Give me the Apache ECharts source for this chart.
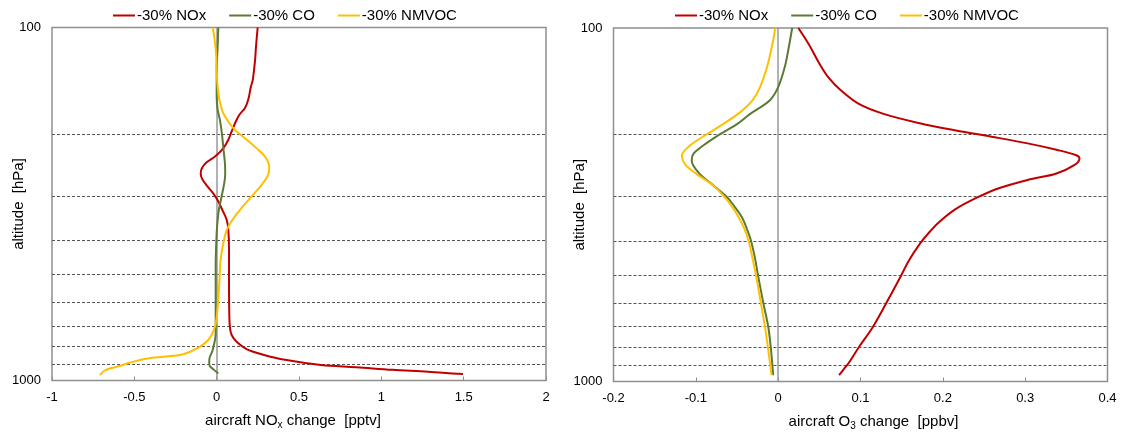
<!DOCTYPE html>
<html>
<head>
<meta charset="utf-8">
<script src="https://cdn.jsdelivr.net/npm/echarts@6/dist/echarts.min.js"></script>
<style>
  html, body { margin: 0; padding: 0; background: #fff; }
  #chart { width: 1124px; height: 434px; }
</style>
</head>
<body>
<div id="chart"></div>
<script>
// series names
var names = ['-30% NOx', '-30% CO', '-30% NMVOC'];
// dashed pressure levels [hPa]
var levels = [200, 300, 400, 500, 600, 700, 800, 900];

// left panel: aircraft NOx change [pptv]
var noxNoxP = [100, 113, 124, 141, 147, 160, 169, 177, 187, 197, 208, 220, 232, 241, 250, 259, 268, 280, 295, 311, 329, 351, 375, 427, 530, 660, 711, 743, 777, 815, 845, 874, 904, 917, 933, 944, 959];
var noxNoxX = [0.249, 0.239, 0.233, 0.219, 0.208, 0.192, 0.172, 0.137, 0.111, 0.091, 0.071, 0.040, -0.010, -0.061, -0.089, -0.097, -0.089, -0.061, -0.021, 0.010, 0.035, 0.061, 0.071, 0.075, 0.075, 0.077, 0.081, 0.091, 0.121, 0.182, 0.283, 0.415, 0.633, 0.849, 1.067, 1.283, 1.496];
var noxCoP = [100, 113, 132, 157, 171, 183, 200, 218, 242, 259, 276, 301, 329, 351, 383, 476, 591, 735, 819, 874, 902, 933, 955];
var noxCoX = [0.010, 0.006, 0.0, 0.0, 0.006, 0.020, 0.032, 0.040, 0.050, 0.052, 0.046, 0.030, 0.013, 0.006, 0.0, -0.006, -0.006, -0.006, -0.024, -0.045, -0.045, -0.016, 0.010];
var noxVocP = [100, 106, 118, 132, 147, 160, 173, 185, 195, 206, 220, 232, 248, 261, 279, 301, 325, 351, 375, 409, 455, 530, 618, 682, 727, 768, 802, 829, 847, 866, 891, 910, 925, 940, 955, 965];
var noxVocX = [-0.024, -0.015, -0.004, 0.0, 0.006, 0.016, 0.036, 0.071, 0.111, 0.172, 0.243, 0.293, 0.319, 0.313, 0.273, 0.212, 0.150, 0.095, 0.061, 0.040, 0.024, 0.016, 0.006, -0.004, -0.021, -0.051, -0.101, -0.162, -0.223, -0.42, -0.53, -0.59, -0.65, -0.685, -0.70, -0.71];

// right panel: aircraft O3 change [ppbv]
var o3NoxP = [100, 111, 126, 138, 150, 164, 175, 186, 195, 203, 212, 221, 229, 234, 244, 258, 269, 284, 303, 326, 355, 382, 408, 454, 519, 602, 701, 800, 891, 921, 960];
var o3NoxX = [0.0245, 0.037, 0.050, 0.061, 0.076, 0.098, 0.128, 0.172, 0.216, 0.259, 0.303, 0.338, 0.362, 0.366, 0.360, 0.338, 0.303, 0.268, 0.240, 0.215, 0.195, 0.182, 0.172, 0.159, 0.146, 0.131, 0.115, 0.098, 0.085, 0.080, 0.074];
var o3CoP = [100, 113, 129, 147, 160, 175, 187, 200, 215, 227, 237, 256, 276, 301, 320, 343, 370, 400, 450, 500, 600, 701, 800, 960];
var o3CoX = [0.017, 0.013, 0.008, 0.0, -0.010, -0.034, -0.050, -0.071, -0.091, -0.103, -0.105, -0.097, -0.081, -0.062, -0.053, -0.044, -0.038, -0.033, -0.028, -0.0245, -0.018, -0.012, -0.009, -0.006];
var o3VocP = [100, 111, 129, 147, 160, 173, 187, 200, 215, 230, 243, 259, 279, 301, 320, 343, 370, 400, 450, 500, 600, 701, 800, 960];
var o3VocX = [-0.0035, -0.007, -0.0135, -0.022, -0.031, -0.046, -0.067, -0.087, -0.107, -0.117, -0.113, -0.099, -0.079, -0.065, -0.056, -0.048, -0.041, -0.036, -0.031, -0.027, -0.021, -0.016, -0.0125, -0.008];

var colors = ['#c00000', '#5b7a33', '#ffc000'];
var font = 'Liberation Sans, Arial, sans-serif';

function pairs(xs, ps) {
  return xs.map(function (x, i) { return [x, ps[i]]; });
}

function curve(name, idx, xs, ps, color) {
  return {
    name: name,
    type: 'line',
    xAxisIndex: idx,
    yAxisIndex: idx,
    data: pairs(xs, ps),
    smooth: 0.35,
    showSymbol: false,
    symbol: 'none',
    color: color,
    lineStyle: { color: color, width: 2 },
    z: 3
  };
}

// gridlines + zero line, drawn under the curves
function guides(idx) {
  var d = levels.map(function (p) {
    return { yAxis: p, lineStyle: { color: '#555', type: [3, 2], width: 1 } };
  });
  d.push({ xAxis: 0, lineStyle: { color: '#999', type: 'solid', width: 1.5 } });
  return {
    type: 'line',
    xAxisIndex: idx,
    yAxisIndex: idx,
    data: [],
    markLine: {
      z: 1,
      silent: true,
      symbol: 'none',
      label: { show: false },
      animation: false,
      data: d
    }
  };
}

function xAx(idx, min, max, interval, name, pad) {
  return {
    type: 'value',
    gridIndex: idx,
    min: min,
    max: max,
    interval: interval,
    axisLine: { show: false },
    axisTick: { show: true, inside: true, length: 4, lineStyle: { color: '#8f8f8f' } },
    splitLine: { show: false },
    axisLabel: { color: '#000', fontSize: 13, fontFamily: font, margin: 10 },
    name: name,
    nameLocation: 'middle',
    nameGap: 31,
    nameMoveOverlap: false,
    nameTextStyle: {
      color: '#000', fontSize: 15, fontFamily: font, lineHeight: 19, padding: pad,
      rich: { sub: { fontSize: 10, fontFamily: font, verticalAlign: 'bottom', lineHeight: 10 } }
    }
  };
}

function yAx(idx) {
  return {
    type: 'log',
    logBase: 10,
    gridIndex: idx,
    min: 100,
    max: 1000,
    inverse: true,
    axisLine: { show: false },
    axisTick: { show: false },
    splitLine: { show: false },
    axisLabel: {
      color: '#000', fontSize: 13, fontFamily: font, margin: 11,
      formatter: function (v) { return String(Math.round(v)); }
    },
    name: 'altitude  [hPa]',
    nameLocation: 'middle',
    nameGap: 26,
    nameMoveOverlap: false,
    nameTextStyle: { color: '#000', fontSize: 15, fontFamily: font }
  };
}

function legendAt(left) {
  return {
    left: left,
    top: 8,
    padding: 0,
    data: names,
    icon: 'rect',
    itemWidth: 22,
    itemHeight: 2,
    itemGap: 23,
    textStyle: { color: '#000', fontSize: 15, fontFamily: font, padding: [0, 0, 0, -3] }
  };
}

var chart = echarts.init(document.getElementById('chart'), null, { renderer: 'canvas' });
chart.setOption({
  animation: false,
  backgroundColor: '#fff',
  legend: [legendAt(113), legendAt(675)],
  grid: [
    { left: 52, top: 27.5, width: 494, height: 353, outerBoundsMode: 'none', containLabel: false, show: true, borderColor: '#8f8f8f', borderWidth: 1.5, backgroundColor: 'transparent' },
    { left: 613.5, top: 28, width: 494, height: 353.5, outerBoundsMode: 'none', containLabel: false, show: true, borderColor: '#8f8f8f', borderWidth: 1.5, backgroundColor: 'transparent' }
  ],
  xAxis: [
    xAx(0, -1, 2, 0.5, 'aircraft NO{sub|x} change  [pptv]', [0, 12, 0, 0]),
    xAx(1, -0.2, 0.4, 0.1, 'aircraft O{sub|3} change  [ppbv]', [0, 0, 0, 26])
  ],
  yAxis: [yAx(0), yAx(1)],
  series: [
    guides(0),
    guides(1),
    curve(names[0], 0, noxNoxX, noxNoxP, colors[0]),
    curve(names[1], 0, noxCoX, noxCoP, colors[1]),
    curve(names[2], 0, noxVocX, noxVocP, colors[2]),
    curve(names[0], 1, o3NoxX, o3NoxP, colors[0]),
    curve(names[1], 1, o3CoX, o3CoP, colors[1]),
    curve(names[2], 1, o3VocX, o3VocP, colors[2])
  ]
});
</script>
</body>
</html>
